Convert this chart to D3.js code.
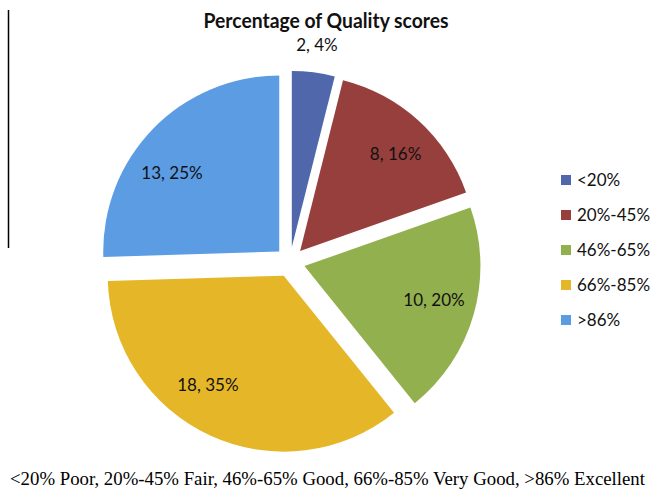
<!DOCTYPE html>
<html>
<head>
<meta charset="utf-8">
<script src="https://cdn.jsdelivr.net/npm/d3@7"></script>
<style>
  body { margin: 0; background: #fff; }
  svg { display: block; }
</style>
</head>
<body>
<div id="chart"></div>
<script>
// quality score bands and how many items fell in each
const categories = ["<20%", "20%-45%", "46%-65%", "66%-85%", ">86%"];
const counts = [2, 8, 10, 18, 13];
const percents = [4, 16, 20, 35, 25];
const colors = ["#5167AC", "#973F3D", "#93B04E", "#E5B728", "#5B9CE3"];

const title = "Percentage of Quality scores";
const footnote = "<20% Poor, 20%-45% Fair, 46%-65% Good, 66%-85% Very Good, >86% Excellent";

const width = 652, height = 489;
const cx = 290, cy = 262, radius = 176, explode = 15;
// label radius (from pie centre) and small angle nudges, like Excel's best fit
const labelR = [219, 151, 149, 148, 148];
const labelNudge = [0, 2, -1, 9, -7];

const svg = d3.select("#chart").append("svg")
  .attr("width", width)
  .attr("height", height);

// stray border line at the left of the original figure
svg.append("line")
  .attr("x1", 8.5).attr("x2", 8.5)
  .attr("y1", 10).attr("y2", 248)
  .attr("stroke", "#000")
  .attr("stroke-width", 1.5);

svg.append("text")
  .attr("x", 326)
  .attr("y", 28)
  .attr("text-anchor", "middle")
  .attr("textLength", 245)
  .attr("lengthAdjust", "spacingAndGlyphs")
  .style("font-family", "Lato, 'Open Sans', sans-serif")
  .style("font-weight", "bold")
  .style("font-size", "21px")
  .style("fill", "#111")
  .text(title);

const pie = d3.pie().sort(null).value(d => d);
const arcs = pie(counts);
const arc = d3.arc().innerRadius(0).outerRadius(radius);

const g = svg.append("g").attr("transform", `translate(${cx},${cy})`);

g.selectAll("path.slice").data(arcs).enter()
  .append("path")
  .attr("class", "slice")
  .attr("d", arc)
  .attr("transform", d => {
    let a = (d.startAngle + d.endAngle) / 2;
    return `translate(${explode * Math.sin(a)},${-explode * Math.cos(a)})`;
  })
  .style("fill", (d, i) => colors[i]);

g.selectAll("text.lbl").data(arcs).enter()
  .append("text")
  .attr("class", "lbl")
  .attr("x", (d, i) => labelR[i] * Math.sin((d.startAngle + d.endAngle) / 2 + labelNudge[i] * Math.PI / 180))
  .attr("y", (d, i) => -labelR[i] * Math.cos((d.startAngle + d.endAngle) / 2 + labelNudge[i] * Math.PI / 180))
  .attr("dy", "0.35em")
  .attr("text-anchor", "middle")
  .style("font-family", "Lato, 'Open Sans', sans-serif")
  .style("font-size", "17px")
  .style("fill", "#111")
  .text((d, i) => `${counts[i]}, ${percents[i]}%`);

// legend
const legend = svg.append("g").attr("transform", "translate(561,180)");
const items = legend.selectAll("g").data(categories).enter()
  .append("g")
  .attr("transform", (d, i) => `translate(0,${i * 35})`);
items.append("rect")
  .attr("x", 0).attr("y", -5)
  .attr("width", 10).attr("height", 10)
  .style("fill", (d, i) => colors[i]);
items.append("text")
  .attr("x", 16)
  .attr("dy", "0.35em")
  .style("font-family", "Lato, 'Open Sans', sans-serif")
  .style("font-size", "17px")
  .style("fill", "#111")
  .text(d => d);

svg.append("text")
  .attr("x", 10)
  .attr("y", 485)
  .attr("textLength", 635)
  .attr("lengthAdjust", "spacingAndGlyphs")
  .style("font-family", "'Liberation Serif', 'Times New Roman', serif")
  .style("font-size", "18px")
  .style("fill", "#000")
  .text(footnote);
</script>
</body>
</html>
